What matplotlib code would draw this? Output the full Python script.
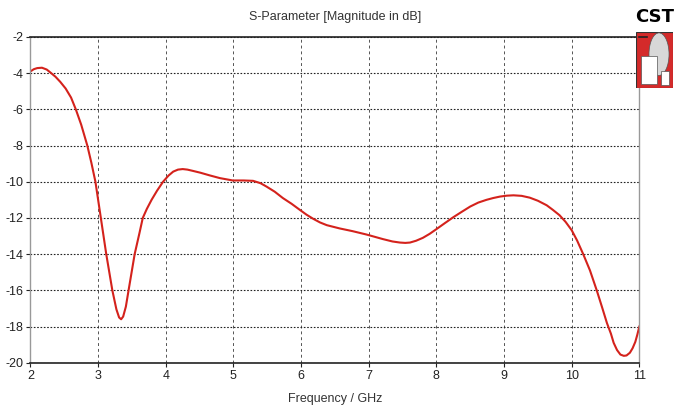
import matplotlib
matplotlib.use("Agg")
import matplotlib.pyplot as plt
from matplotlib.patches import Rectangle, Ellipse

# ---- DATA ----
freq_ghz = [2.00, 2.05, 2.10, 2.17, 2.24, 2.30, 2.37, 2.44, 2.52, 2.60,
            2.67, 2.75, 2.84, 2.90, 2.96, 3.04, 3.12, 3.21, 3.27, 3.31,
            3.34, 3.37, 3.41, 3.45, 3.54, 3.61, 3.66, 3.72, 3.79, 3.87,
            3.96, 4.04, 4.11, 4.18, 4.25, 4.32, 4.40, 4.51, 4.65, 4.80,
            4.99, 5.15, 5.29, 5.40, 5.49, 5.61, 5.73, 5.86, 5.98, 6.08,
            6.18, 6.28, 6.38, 6.57, 6.76, 6.97, 7.21, 7.35, 7.46, 7.54,
            7.61, 7.70, 7.80, 7.90, 8.00, 8.12, 8.25, 8.38, 8.50, 8.62,
            8.74, 8.84, 8.94, 9.04, 9.14, 9.26, 9.38, 9.50, 9.63, 9.72,
            9.82, 9.91, 10.00, 10.08, 10.17, 10.27, 10.37, 10.45, 10.52, 10.58,
            10.62, 10.67, 10.72, 10.77, 10.81, 10.86, 10.90, 10.94, 10.97, 11.00]
s11_db = [-3.90, -3.78, -3.72, -3.70, -3.80, -3.98, -4.20, -4.48, -4.85, -5.35,
          -6.00, -6.85, -8.00, -8.95, -10.00, -12.00, -14.00, -16.00, -17.05, -17.50,
          -17.60, -17.45, -16.90, -16.00, -14.00, -12.85, -12.00, -11.50, -11.00, -10.50,
          -10.00, -9.66, -9.44, -9.33, -9.30, -9.33, -9.40, -9.50, -9.65, -9.80,
          -9.93, -9.93, -9.95, -10.08, -10.27, -10.55, -10.90, -11.22, -11.55, -11.82,
          -12.05, -12.25, -12.40, -12.58, -12.73, -12.92, -13.17, -13.30, -13.36, -13.38,
          -13.36, -13.26, -13.10, -12.88, -12.62, -12.30, -11.96, -11.65, -11.37, -11.15,
          -11.00, -10.90, -10.82, -10.77, -10.75, -10.78, -10.88, -11.05, -11.30, -11.55,
          -11.85, -12.22, -12.68, -13.25, -14.00, -14.90, -16.00, -16.95, -17.80, -18.40,
          -18.90, -19.30, -19.55, -19.62, -19.60, -19.45, -19.20, -18.85, -18.45, -18.00]

x_ticks = [2, 3, 4, 5, 6, 7, 8, 9, 10, 11]
y_ticks = [-2, -4, -6, -8, -10, -12, -14, -16, -18, -20]

TITLE = "S-Parameter [Magnitude in dB]"
XLABEL = "Frequency / GHz"

# ---- PLOT ----
plt.rcParams['font.family'] = ['Liberation Sans', 'DejaVu Sans']
plt.rcParams['axes.unicode_minus'] = False  # CST uses a plain hyphen

fig = plt.figure(figsize=(6.88, 4.2), dpi=100)
ax = fig.add_axes([0.0443, 0.1364, 0.8850, 0.7756])

ax.plot(freq_ghz, s11_db, color='#d4221c', linewidth=1.5)

ax.set_xlim(2, 11)
ax.set_ylim(-20, -2)
ax.set_xticks(x_ticks)
ax.set_yticks(y_ticks)
ax.tick_params(axis='both', labelsize=9, length=3, width=0.8, colors='#222222', pad=2)

# vertical dashed, horizontal dotted grid
ax.xaxis.grid(True, linestyle=(0, (3, 3)), color='#555555', linewidth=0.7)
ax.yaxis.grid(True, linestyle=(0, (1.5, 1.5)), color='#222222', linewidth=0.8)

for side in ['left', 'right']:
    ax.spines[side].set_color('#999999')
    ax.spines[side].set_linewidth(1.0)
for side in ['top', 'bottom']:
    ax.spines[side].set_color('#222222')
    ax.spines[side].set_linewidth(1.2)

ax.set_title(TITLE, fontsize=9, color='#333333', pad=12)
ax.set_xlabel(XLABEL, fontsize=9, color='#333333', labelpad=8)

# top border runs on to the logo
fig.add_artist(plt.Line2D([0.929, 0.94], [0.912, 0.912], color='#222222', linewidth=1.2))

# CST logo
fig.text(0.952, 0.96, "CST", fontsize=13, fontweight='bold', ha='center', va='center',
         family=['DejaVu Sans'])
logo = fig.add_axes([0.925, 0.79, 0.053, 0.135])
logo.set_xlim(0, 1)
logo.set_ylim(0, 1)
logo.axis('off')
logo.add_patch(Rectangle((0, 0), 1, 1, facecolor='#d42a2a', edgecolor='#333333', linewidth=0.8))
logo.add_patch(Ellipse((0.62, 0.6), 0.55, 0.75, facecolor='#d8d8d8', edgecolor='#555555', linewidth=0.5))
logo.add_patch(Rectangle((0.12, 0.08), 0.45, 0.48, facecolor='white', edgecolor='#555555', linewidth=0.5))
logo.add_patch(Rectangle((0.68, 0.05), 0.22, 0.25, facecolor='white', edgecolor='#555555', linewidth=0.5))

fig.savefig("out.png", dpi=100)
